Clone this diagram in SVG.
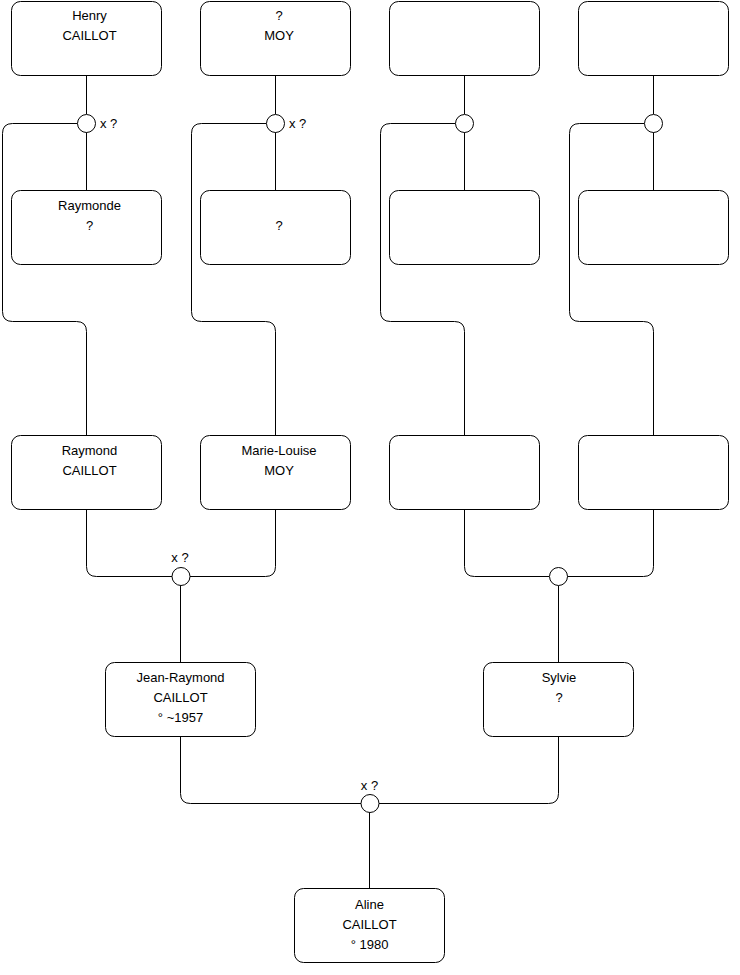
<svg xmlns="http://www.w3.org/2000/svg" width="740" height="975" viewBox="0 0 740 975">
<style>
.box{fill:#fff;stroke:#000;stroke-width:1}
.u{fill:#fff;stroke:#000;stroke-width:1}
.c{fill:none;stroke:#000;stroke-width:1}
text{font-family:"Liberation Sans",Arial,sans-serif;font-size:13px;fill:#000}
.m{text-anchor:middle}
</style>
<rect width="740" height="975" fill="#fff"/>
<g id="connectors">
<path class="c" d="M86.5 76V114M86.5 132V190"/>
<path class="c" d="M275.5 76V114M275.5 132V190"/>
<path class="c" d="M464.5 76V114M464.5 132V190"/>
<path class="c" d="M653.5 76V114M653.5 132V190"/>
<path class="c" d="M77.5 123.5H12.5Q2.5 123.5 2.5 133.5V311.5Q2.5 321.5 12.5 321.5H76.5Q86.5 321.5 86.5 331.5V435"/>
<path class="c" d="M266.5 123.5H201.5Q191.5 123.5 191.5 133.5V311.5Q191.5 321.5 201.5 321.5H265.5Q275.5 321.5 275.5 331.5V435"/>
<path class="c" d="M455.5 123.5H390.5Q380.5 123.5 380.5 133.5V311.5Q380.5 321.5 390.5 321.5H454.5Q464.5 321.5 464.5 331.5V435"/>
<path class="c" d="M644.5 123.5H579.5Q569.5 123.5 569.5 133.5V311.5Q569.5 321.5 579.5 321.5H643.5Q653.5 321.5 653.5 331.5V435"/>
<path class="c" d="M86.5 510V566.5Q86.5 576.5 96.5 576.5H172M275.5 510V566.5Q275.5 576.5 265.5 576.5H190M180.5 585.5V662"/>
<path class="c" d="M464.5 510V566.5Q464.5 576.5 474.5 576.5H549M653.5 510V566.5Q653.5 576.5 643.5 576.5H567M558.5 585.5V662"/>
<path class="c" d="M180.5 737V793.5Q180.5 803.5 190.5 803.5H361M558.5 737V793.5Q558.5 803.5 548.5 803.5H379M369.5 812.5V888"/>
</g>
<g id="u1"><circle class="u" cx="86.5" cy="123.5" r="9"/><text x="100" y="128">x ?</text></g>
<g id="u2"><circle class="u" cx="275.5" cy="123.5" r="9"/><text x="289" y="128">x ?</text></g>
<g id="u3"><circle class="u" cx="464.5" cy="123.5" r="9"/></g>
<g id="u4"><circle class="u" cx="653.5" cy="123.5" r="9"/></g>
<g id="u5"><circle class="u" cx="181" cy="576.5" r="9"/><text class="m" x="180" y="562">x ?</text></g>
<g id="u6"><circle class="u" cx="558.5" cy="576.5" r="9"/></g>
<g id="u7"><circle class="u" cx="370" cy="803.5" r="9"/><text class="m" x="369.5" y="790">x ?</text></g>
<g id="henry"><rect class="box" x="11.5" y="1.5" width="150" height="74" rx="9"/><text class="m" x="89.5" y="20">Henry</text><text class="m" x="89.5" y="40">CAILLOT</text></g>
<g id="moy1"><rect class="box" x="200.5" y="1.5" width="150" height="74" rx="9"/><text class="m" x="279" y="20">?</text><text class="m" x="279" y="40">MOY</text></g>
<g id="p3"><rect class="box" x="389.5" y="1.5" width="150" height="74" rx="9"/></g>
<g id="p4"><rect class="box" x="578.5" y="1.5" width="150" height="74" rx="9"/></g>
<g id="raymonde"><rect class="box" x="11.5" y="190.5" width="150" height="74" rx="9"/><text class="m" x="89.5" y="210">Raymonde</text><text class="m" x="89.5" y="230">?</text></g>
<g id="m2"><rect class="box" x="200.5" y="190.5" width="150" height="74" rx="9"/><text class="m" x="279" y="230">?</text></g>
<g id="m3"><rect class="box" x="389.5" y="190.5" width="150" height="74" rx="9"/></g>
<g id="m4"><rect class="box" x="578.5" y="190.5" width="150" height="74" rx="9"/></g>
<g id="raymond"><rect class="box" x="11.5" y="435.5" width="150" height="74" rx="9"/><text class="m" x="89.5" y="455">Raymond</text><text class="m" x="89.5" y="475">CAILLOT</text></g>
<g id="marielouise"><rect class="box" x="200.5" y="435.5" width="150" height="74" rx="9"/><text class="m" x="279" y="455">Marie-Louise</text><text class="m" x="279" y="475">MOY</text></g>
<g id="r3"><rect class="box" x="389.5" y="435.5" width="150" height="74" rx="9"/></g>
<g id="r4"><rect class="box" x="578.5" y="435.5" width="150" height="74" rx="9"/></g>
<g id="jeanraymond"><rect class="box" x="105.5" y="662.5" width="150" height="74" rx="9"/><text class="m" x="180.5" y="682">Jean-Raymond</text><text class="m" x="180.5" y="702">CAILLOT</text><text class="m" x="180.5" y="722">° ~1957</text></g>
<g id="sylvie"><rect class="box" x="483.5" y="662.5" width="150" height="74" rx="9"/><text class="m" x="559" y="682">Sylvie</text><text class="m" x="559" y="702">?</text></g>
<g id="aline"><rect class="box" x="294.5" y="888.5" width="150" height="74" rx="9"/><text class="m" x="369.5" y="909">Aline</text><text class="m" x="369.5" y="929">CAILLOT</text><text class="m" x="369.5" y="949">° 1980</text></g>
</svg>
